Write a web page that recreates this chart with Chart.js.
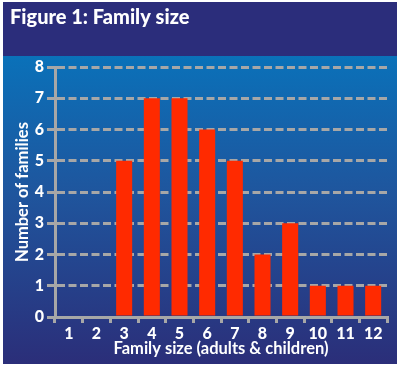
<!DOCTYPE html>
<html>
<head>
<meta charset="utf-8">
<script src="https://cdn.jsdelivr.net/npm/chart.js@4/dist/chart.umd.min.js"></script>
<style>
  html, body { margin: 0; padding: 0; background: #ffffff; }
  #wrap { position: relative; width: 399px; height: 366px; }
</style>
</head>
<body>
<div id="wrap"><canvas id="c" width="399" height="366"></canvas></div>
<script>
const titleText = "Figure 1: Family size";
const categories = ["1", "2", "3", "4", "5", "6", "7", "8", "9", "10", "11", "12"];
const families = [0, 0, 5, 7, 7, 6, 5, 2, 3, 1, 1, 1];
const yTicks = [0, 1, 2, 3, 4, 5, 6, 7, 8];
const xTitle = "Family size (adults & children)";
const yTitle = "Number of families";

const FONT = "Lato, 'Open Sans', sans-serif";
const GREY = "#a7a7a7";

const bgPlugin = {
  id: "bg",
  beforeDraw(chart) {
    const ctx = chart.ctx;
    ctx.save();
    ctx.fillStyle = "#ffffff";
    ctx.fillRect(0, 0, chart.width, chart.height);
    ctx.fillStyle = "#2b2d7b";
    ctx.fillRect(3, 2, 394, 54);
    const g = ctx.createLinearGradient(0, 56, 0, 364);
    g.addColorStop(0, "#0a71b9");
    g.addColorStop(0.45, "#1f559d");
    g.addColorStop(1, "#2b2e79");
    ctx.fillStyle = g;
    ctx.fillRect(3, 56, 394, 308);
    ctx.restore();
  }
};

new Chart(document.getElementById("c"), {
  type: "bar",
  data: {
    labels: categories,
    datasets: [{
      data: families,
      backgroundColor: "#ff2a00",
      borderWidth: 0,
      categoryPercentage: 1,
      barPercentage: 0.58
    }]
  },
  plugins: [bgPlugin],
  options: {
    responsive: false,
    animation: false,
    layout: { padding: { left: 10, right: 12, top: 0, bottom: 0 } },
    plugins: {
      legend: { display: false },
      tooltip: { enabled: false },
      title: {
        display: true,
        text: titleText,
        align: "start",
        color: "#ffffff",
        font: { family: FONT, size: 20, weight: "900", lineHeight: 1.2 },
        padding: { top: 6, bottom: 37 }
      }
    },
    scales: {
      x: {
        offset: true,
        afterFit(s) { s.height = 49; },
        grid: {
          display: true,
          offset: true,
          drawOnChartArea: false,
          drawTicks: true,
          tickLength: 6,
          color: GREY,
          tickColor: GREY,
          lineWidth: 3,
          tickWidth: 3
        },
        border: { display: true, color: GREY, width: 3 },
        ticks: {
          color: "#ffffff",
          padding: 1,
          font: { family: FONT, size: 16, weight: "900" }
        },
        title: {
          display: true,
          text: xTitle,
          color: "#ffffff",
          font: { family: FONT, size: 16.5, weight: "bold", lineHeight: 1.2 },
          padding: { top: 0, bottom: 7 }
        }
      },
      y: {
        min: 0,
        max: 8,
        afterFit(s) { s.width = 45; },
        afterBuildTicks(s) { s.ticks = yTicks.map(v => ({ value: v })); },
        grid: {
          display: true,
          color: GREY,
          lineWidth: 3,
          drawTicks: true,
          tickLength: 8,
          tickColor: GREY,
          tickWidth: 3,
          tickBorderDash: [],
        },
        border: { display: true, color: GREY, width: 3, dash: [8, 3.5] },
        ticks: {
          color: "#ffffff",
          padding: 3,
          font: { family: FONT, size: 16, weight: "900" }
        },
        title: {
          display: true,
          text: yTitle,
          color: "#ffffff",
          font: { family: FONT, size: 16.5, weight: "bold", lineHeight: 1.2 },
          padding: { top: 3, bottom: 0 }
        }
      }
    }
  }
});
</script>
</body>
</html>
